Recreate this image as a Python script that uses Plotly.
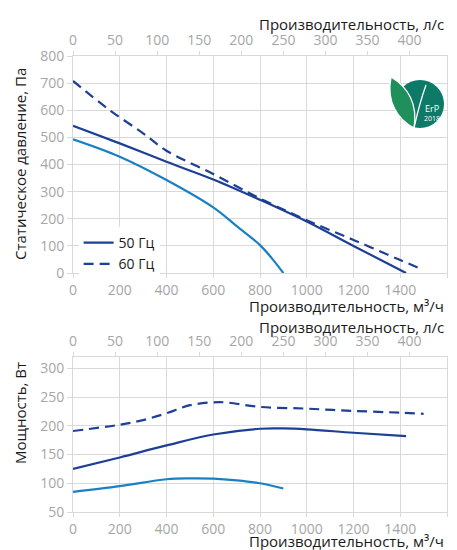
import plotly.graph_objects as go

# ---------------- data ----------------
# Static pressure (Pa) vs airflow (m3/h)
q_p50 = [0, 200, 400, 600, 800, 1000, 1200, 1425]
p_p50 = [543, 478, 410, 345, 270, 190, 100, 0]
q_p60 = [0, 150, 300, 400, 600, 800, 1000, 1200, 1400, 1490]
p_p60 = [708, 605, 515, 451, 365, 275, 195, 122, 48, 15]
q_plow = [0, 200, 400, 600, 700, 800, 850, 900]
p_plow = [493, 429, 343, 242, 173, 103, 55, 0]

# Power (W) vs airflow (m3/h)
q_w50 = [0, 200, 400, 600, 800, 900, 1000, 1200, 1425]
w_w50 = [125, 145, 166, 185, 195, 195.5, 194, 188, 182]
q_w60 = [0, 200, 300, 400, 500, 600, 650, 800, 1000, 1200, 1400, 1500]
w_w60 = [191, 202, 210, 222, 236, 241, 241, 233, 230, 226, 223, 221]
q_wlow = [0, 200, 400, 500, 600, 700, 800, 900]
w_wlow = [85, 95, 107, 108.5, 108, 105, 100, 91]

x_ticks_m3h = [0, 200, 400, 600, 800, 1000, 1200, 1400, 1600]
x_ticks_ls = [0, 50, 100, 150, 200, 250, 300, 350, 400]
y_ticks_p = [0, 100, 200, 300, 400, 500, 600, 700, 800]
y_ticks_w = [50, 100, 150, 200, 250, 300]

legend_names = ["50 Гц", "60 Гц"]

# ---------------- style ----------------
DARK = "#1d3f95"
LIGHT = "#1a80c4"
GRID = "#d9d9d9"
TICK = "#a6a6a6"
TXT = "#1a1a1a"
FONT = "Open Sans"

fig = go.Figure()

fig.add_trace(go.Scatter(x=q_p50, y=p_p50, mode="lines", name=legend_names[0],
                         line=dict(color=DARK, width=2.2, shape="spline"),
                         xaxis="x", yaxis="y"))
fig.add_trace(go.Scatter(x=q_p60, y=p_p60, mode="lines", name=legend_names[1],
                         line=dict(color=DARK, width=2.2, shape="spline", dash="10px,6px"),
                         xaxis="x", yaxis="y"))
fig.add_trace(go.Scatter(x=q_plow, y=p_plow, mode="lines", showlegend=False,
                         line=dict(color=LIGHT, width=2.2, shape="spline"),
                         xaxis="x", yaxis="y"))

fig.add_trace(go.Scatter(x=q_w50, y=w_w50, mode="lines", showlegend=False,
                         line=dict(color=DARK, width=2.2, shape="spline"),
                         xaxis="x3", yaxis="y2"))
fig.add_trace(go.Scatter(x=q_w60, y=w_w60, mode="lines", showlegend=False,
                         line=dict(color=DARK, width=2.2, shape="spline", dash="10px,6px"),
                         xaxis="x3", yaxis="y2"))
fig.add_trace(go.Scatter(x=q_wlow, y=w_wlow, mode="lines", showlegend=False,
                         line=dict(color=LIGHT, width=2.2, shape="spline"),
                         xaxis="x3", yaxis="y2"))

# invisible traces to instantiate the top (l/s) axes
fig.add_trace(go.Scatter(x=[0], y=[0], mode="lines", showlegend=False, hoverinfo="skip",
                         line=dict(width=0), opacity=0, xaxis="x2", yaxis="y"))
fig.add_trace(go.Scatter(x=[0], y=[100], mode="lines", showlegend=False, hoverinfo="skip",
                         line=dict(width=0), opacity=0, xaxis="x4", yaxis="y2"))

TOP_DOM = [0.524, 1.0]
BOT_DOM = [0.0, 0.340]

common_x = dict(showgrid=True, gridcolor=GRID, gridwidth=1, zeroline=False,
                showline=True, linecolor=GRID, linewidth=1, automargin=False,
                ticks="outside", ticklen=4, tickcolor=GRID,
                tickfont=dict(family=FONT, size=14, color=TICK))
common_y = dict(showgrid=True, gridcolor=GRID, gridwidth=1, zeroline=False,
                showline=True, linecolor=GRID, linewidth=1, automargin=False,
                ticks="outside", ticklen=5, tickcolor=GRID,
                tickfont=dict(family=FONT, size=14, color=TICK))

fig.update_layout(
    width=457, height=550,
    margin=dict(l=73, r=10, t=56, b=38, autoexpand=False),
    paper_bgcolor="white", plot_bgcolor="white",
    font=dict(family=FONT, color=TXT),
    xaxis=dict(common_x, domain=[0, 1], anchor="y", range=[0, 1600],
               tickvals=x_ticks_m3h, mirror=True),
    xaxis2=dict(common_x, overlaying="x", side="top", anchor="y",
                range=[0, 1600 / 3.6], tickvals=x_ticks_ls, showgrid=False),
    yaxis=dict(common_y, domain=TOP_DOM, anchor="x", range=[0, 800],
               tickvals=y_ticks_p, mirror=True),
    xaxis3=dict(common_x, domain=[0, 1], anchor="y2", range=[0, 1600],
                tickvals=x_ticks_m3h, mirror=True),
    xaxis4=dict(common_x, overlaying="x3", side="top", anchor="y2",
                range=[0, 1600 / 3.6], tickvals=x_ticks_ls, showgrid=False),
    yaxis2=dict(common_y, domain=BOT_DOM, anchor="x3", range=[50, 320],
                tickvals=y_ticks_w, mirror=True),
    legend=dict(x=0.015, y=0.625, xanchor="left", yanchor="top",
                bgcolor="white", borderwidth=0,
                font=dict(family=FONT, size=14, color=TXT),
                tracegroupgap=0, itemwidth=30),
    showlegend=True,
)

def px_x(px):
    return (px - 73) / 374.0

def px_y(py):
    return (512 - py) / 456.0

title_font = dict(family=FONT, size=15, color=TXT)
annots = [
    dict(text="Производительность, л/с", x=px_x(446), y=px_y(24)),
    dict(text="Производительность, м³/ч", x=px_x(446), y=px_y(306)),
    dict(text="Производительность, л/с", x=px_x(446), y=px_y(327)),
    dict(text="Производительность, м³/ч", x=px_x(446), y=px_y(541)),
]
for a in annots:
    fig.add_annotation(text=a["text"], x=a["x"], y=a["y"], xref="paper", yref="paper",
                       xanchor="right", yanchor="middle", showarrow=False, font=title_font)

fig.add_annotation(text="Статическое давление, Па", x=px_x(20), y=px_y(164),
                   xref="paper", yref="paper", textangle=-90, showarrow=False,
                   xanchor="center", yanchor="middle", font=title_font)
fig.add_annotation(text="Мощность, Вт", x=px_x(20), y=px_y(413),
                   xref="paper", yref="paper", textangle=-90, showarrow=False,
                   xanchor="center", yanchor="middle", font=title_font)

# ---------------- ErP 2018 logo ----------------
LOGO_Q, LOGO_P = 1484.5, 623
fig.add_shape(type="circle", xref="x", yref="y", xsizemode="pixel", ysizemode="pixel",
              xanchor=LOGO_Q, yanchor=LOGO_P, x0=-24, x1=24, y0=-24, y1=24,
              fillcolor="#0d7a68", line=dict(width=0))
fig.add_shape(type="path", xref="x", yref="y", xsizemode="pixel", ysizemode="pixel",
              xanchor=LOGO_Q, yanchor=LOGO_P,
              path="M -29,27 C -34,2 -22,-16 -6,-24 C -2,0 -12,17 -29,27 Z",
              fillcolor="#1f8f5c", line=dict(color="white", width=1.3))
fig.add_shape(type="path", xref="x", yref="y", xsizemode="pixel", ysizemode="pixel",
              xanchor=LOGO_Q, yanchor=LOGO_P,
              path="M -6,-24 C -2,-6 2,8 6,19",
              line=dict(color="white", width=1.3))
fig.add_annotation(text="ErP", x=LOGO_Q, y=LOGO_P, xref="x", yref="y", xshift=12, yshift=-4,
                   showarrow=False, font=dict(family=FONT, size=9, color="white"))
fig.add_annotation(text="2018", x=LOGO_Q, y=LOGO_P, xref="x", yref="y", xshift=12, yshift=-14,
                   showarrow=False, font=dict(family=FONT, size=7, color="white"))

fig.write_html("out.html", config={"displayModeBar": False},
               post_script="document.body.style.margin='0px';document.body.style.overflow='hidden';")
